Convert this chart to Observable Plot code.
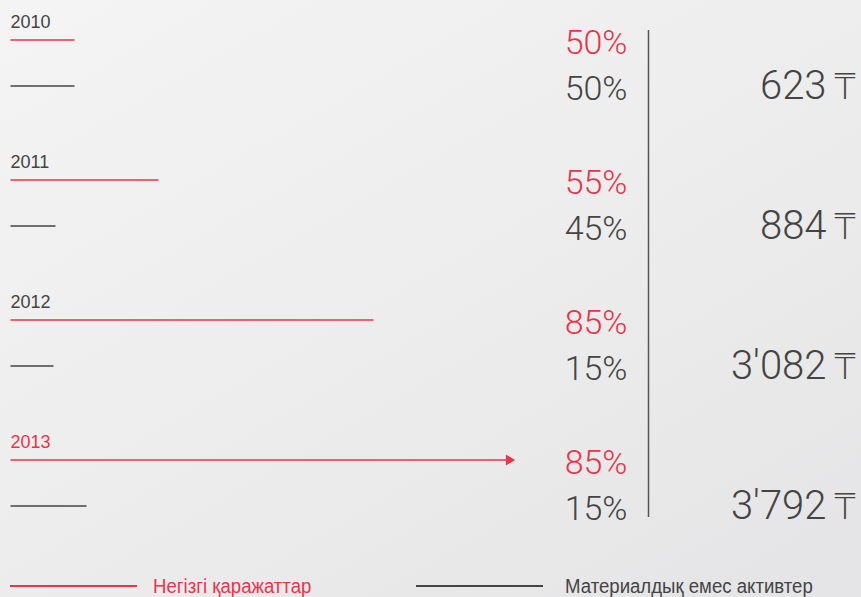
<!DOCTYPE html>
<html>
<head>
<meta charset="utf-8">
<script src="https://cdn.jsdelivr.net/npm/d3@7"></script>
<script src="https://cdn.jsdelivr.net/npm/@observablehq/plot@0.6"></script>
<style>
  html, body { margin: 0; padding: 0; }
  body {
    width: 861px; height: 597px; overflow: hidden; position: relative;
    background: linear-gradient(150deg, #f4f4f4 0%, #ececec 55%, #e4e4e6 100%);
    font-family: "Liberation Sans", Arial, Helvetica, sans-serif;
  }
  #chart svg { display: block; background: transparent; }
  #legend { position: absolute; left: 0; top: 574px; width: 861px; height: 23px; }
  .item { position: absolute; top: 0; display: flex; align-items: center; white-space: nowrap;
          font-family: "Liberation Sans", Arial, sans-serif;
          font-size: 20px; line-height: 24px; }
  .swatch { display: inline-block; height: 2px; }
  .lbl { display: inline-block; transform: scaleX(0.93); transform-origin: left center; }
</style>
</head>
<body>
<div id="chart"></div>
<div id="legend"></div>
<script>
// ---- data ----
const years = [2010, 2011, 2012, 2013];
const fixedShare = [50, 55, 85, 85];        // Негізгі қаражаттар, %
const intangibleShare = [50, 45, 15, 15];   // Материалдық емес активтер, %
const totals = ["623", "884", "3'082", "3'792"];
const fixedLineLen = [64, 148, 363, 502];   // length of red line
const intangibleLineLen = [64, 45, 43, 76]; // length of dark line
const seriesNames = ["Негізгі қаражаттар", "Материалдық емес активтер"];
const currency = "₸";

const RED = "#e8344c";
const DARK = "#444444";

const rows = years.map((y, i) => ({
  year: y, fixed: fixedShare[i], intang: intangibleShare[i], total: totals[i],
  redLen: fixedLineLen[i], blackLen: intangibleLineLen[i], last: i === years.length - 1
}));

const W = 861, H = 565;
const font = "Liberation Sans, Arial, Helvetica, sans-serif";
const light = "Roboto, Liberation Sans, sans-serif";

const chart = Plot.plot({
  width: W, height: H,
  marginLeft: 10, marginRight: 0, marginTop: 0, marginBottom: 0,
  x: { domain: [0, W - 10], axis: null },
  y: { domain: [2010, 2013], range: [39.5, 459.5], axis: null },
  style: { background: "transparent", fontFamily: font, overflow: "visible" },
  marks: [
    // year labels
    Plot.text(rows, { x: 0, y: "year", text: d => String(d.year), textAnchor: "start", lineAnchor: "bottom",
      dy: -12, fontSize: 18, fill: d => d.last ? RED : DARK }),
    // red lines
    Plot.link(rows, { x1: 0, x2: d => d.last ? d.redLen - 6 : d.redLen, y1: "year", y2: "year", stroke: RED, strokeWidth: 1.5 }),
    Plot.dot(rows.filter(d => d.last), { x: d => d.redLen, y: "year", dx: -3.5, symbol: "triangle", rotate: 90, r: 4, fill: RED, stroke: "none" }),
    // dark lines
    Plot.link(rows, { x1: 0, x2: "blackLen", y1: "year", y2: "year", dy: 46, stroke: DARK, strokeWidth: 1.5 }),
    // percentages
    Plot.text(rows, { frameAnchor: "right", y: "year", text: d => d.fixed + "%", textAnchor: "end", lineAnchor: "bottom",
      dx: -234, dy: 14, fontSize: 34, fill: RED, fontFamily: light, fontWeight: 300 }),
    Plot.text(rows, { frameAnchor: "right", y: "year", text: d => d.intang + "%", textAnchor: "end", lineAnchor: "bottom",
      dx: -234, dy: 59.5, fontSize: 34, fill: DARK, fontFamily: light, fontWeight: 300 }),
    // separator
    Plot.ruleX([638], { y1: 2010, y2: 2013, insetTop: -9.5, insetBottom: -57.5, stroke: "#555", strokeWidth: 1.5 }),
    // totals
    Plot.text(rows, { frameAnchor: "right", y: "year", text: "total", textAnchor: "end", lineAnchor: "bottom",
      dx: -35, dy: 58.5, fontSize: 40, fill: DARK, fontFamily: light, fontWeight: 300 }),
    Plot.text(rows, { frameAnchor: "right", y: "year", text: () => currency, textAnchor: "end", lineAnchor: "bottom",
      dx: -5, dy: 58.5, fontSize: 36, fill: DARK, fontFamily: "DejaVu Sans, sans-serif", fontWeight: 200 })
  ]
});
document.getElementById("chart").appendChild(chart);

// legend
const legend = document.getElementById("legend");
const legendItems = [
  { name: seriesNames[0], color: RED, left: 10, sw: 127, gap: 16 },
  { name: seriesNames[1], color: DARK, left: 416, sw: 127, gap: 22 }
];
legendItems.forEach(it => {
  const d = document.createElement("div");
  d.className = "item";
  d.style.left = it.left + "px";
  d.style.color = it.color;
  const s = document.createElement("span");
  s.className = "swatch";
  s.style.width = it.sw + "px";
  s.style.background = it.color;
  s.style.marginRight = it.gap + "px";
  d.appendChild(s);
  const t = document.createElement("span");
  t.className = "lbl";
  t.textContent = it.name;
  d.appendChild(t);
  legend.appendChild(d);
});
</script>
</body>
</html>
